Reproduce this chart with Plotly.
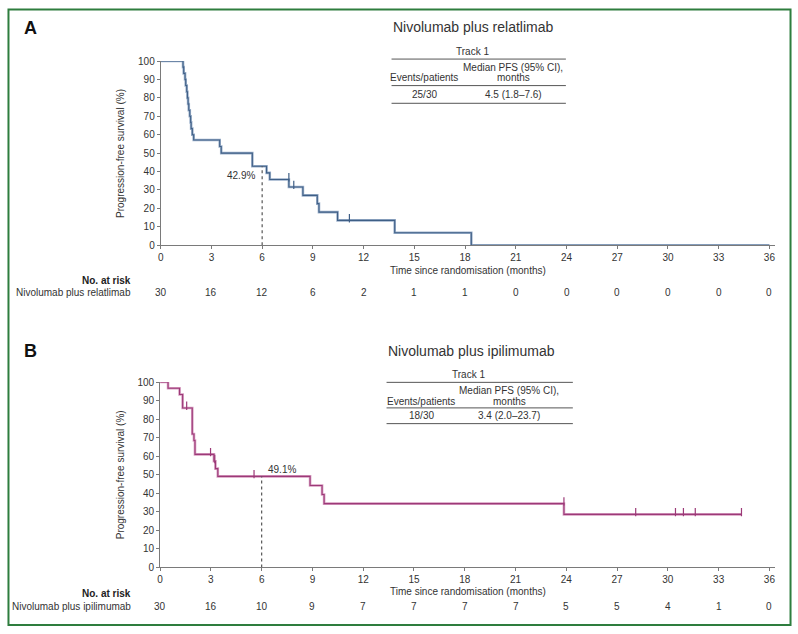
import plotly.graph_objects as go

W, H = 798, 634

# ---------------- data ----------------
months_ticks = [0, 3, 6, 9, 12, 15, 18, 21, 24, 27, 30, 33, 36]

a_times = [0, 1.32, 1.36, 1.44, 1.48, 1.54, 1.58, 1.62, 1.66, 1.72, 1.77, 1.80, 1.87, 1.95,
           3.49, 3.58, 5.42, 6.26, 6.45, 7.58, 8.41, 9.26, 9.36, 10.46, 13.84, 18.37, 36]
a_surv = [100, 96.7, 93.3, 90.0, 86.7, 83.3, 80.0, 76.7, 73.3, 70.0, 66.7, 63.3, 60.0, 57.1,
          53.6, 50.0, 42.9, 39.3, 35.7, 31.6, 27.1, 22.6, 18.0, 13.5, 6.8, 0, 0]
a_cens_t = [7.58, 7.87, 11.16]
a_cens_s = [35.7, 31.6, 13.5]
a_risk = [30, 16, 12, 6, 2, 1, 1, 0, 0, 0, 0, 0, 0]
a_median6 = 42.9

b_times = [0, 0.47, 1.15, 1.33, 1.90, 2.00, 2.06, 3.18, 3.27, 3.41, 8.86, 9.57, 9.69, 23.86, 34.35]
b_surv = [100, 96.7, 93.3, 86.0, 72.0, 68.5, 61.0, 57.3, 53.3, 49.1, 44.2, 39.3, 34.4, 28.6, 28.6]
b_cens_t = [1.57, 2.98, 3.23, 5.55, 23.86, 28.1, 30.45, 30.92, 31.62, 34.35]
b_cens_s = [86.0, 61.0, 57.3, 49.1, 34.4, 28.6, 28.6, 28.6, 28.6, 28.6]
b_risk = [30, 16, 10, 9, 7, 7, 7, 7, 5, 5, 4, 1, 0]
b_median6 = 49.1

# ---------------- helpers ----------------
def px(x):
    return x / W

def py(y):
    return 1 - y / H

FONT = "Liberation Sans, Arial, sans-serif"
TXT = "#333333"
AX = "#7a7a7a"
COL_A = "#3f5f86"
COL_A_LIGHT = "#9db1cb"
COL_B = "#9c3a78"
COL_B_LIGHT = "#d79cc0"

fig = go.Figure()

panels = {
    "A": dict(x0=158.3, x36=769.3, ytop=56.0, ybot=243.5, xa="x", ya="y"),
    "B": dict(x0=157.7, x36=769.3, ytop=382.7, ybot=571.3, xa="x2", ya="y2"),
}

def add_curve(xa, ya, t, s, ct, cs, col, col_light, med):
    fig.add_trace(go.Scatter(x=t, y=s, mode="lines", line=dict(color=col_light, width=2.6, shape="hv"),
                             xaxis=xa, yaxis=ya, hoverinfo="skip", showlegend=False))
    fig.add_trace(go.Scatter(x=t, y=s, mode="lines", line=dict(color=col, width=1.1, shape="hv"),
                             xaxis=xa, yaxis=ya, showlegend=False))
    fig.add_trace(go.Scatter(x=ct, y=[v + 1.2 for v in cs], mode="markers",
                             marker=dict(symbol="line-ns", size=6, line=dict(color=col, width=1.2)),
                             xaxis=xa, yaxis=ya, showlegend=False))
    fig.add_trace(go.Scatter(x=[6, 6], y=[0, med], mode="lines",
                             line=dict(color="#555555", width=1.2, dash="dot"),
                             xaxis=xa, yaxis=ya, showlegend=False))

add_curve("x", "y", a_times, a_surv, a_cens_t, a_cens_s, COL_A, COL_A_LIGHT, a_median6)
add_curve("x2", "y2", b_times, b_surv, b_cens_t, b_cens_s, COL_B, COL_B_LIGHT, b_median6)

ext = 0.35
layout_axes = {}
for key, p in panels.items():
    ppm = (p["x36"] - p["x0"]) / 36
    xd = [px(p["x0"]), px(p["x36"] + ext * ppm)]
    yd = [py(p["ybot"]), py(p["ytop"])]
    xname = "xaxis" if p["xa"] == "x" else "xaxis2"
    yname = "yaxis" if p["ya"] == "y" else "yaxis2"
    layout_axes[xname] = dict(domain=xd, range=[0, 36 + ext], tickvals=months_ticks,
                              ticktext=[str(m) for m in months_ticks],
                              showline=True, linecolor=AX, linewidth=1, ticks="outside",
                              ticklen=3, tickcolor=AX, showgrid=False, zeroline=False,
                              tickfont=dict(size=10, color=TXT, family=FONT),
                              anchor=p["ya"], fixedrange=True)
    layout_axes[yname] = dict(domain=yd, range=[0, 100], tickvals=list(range(0, 101, 10)),
                              showline=True, linecolor=AX, linewidth=1, ticks="outside",
                              ticklen=3, tickcolor=AX, showgrid=False, zeroline=False,
                              tickfont=dict(size=10, color=TXT, family=FONT),
                              anchor=p["xa"], fixedrange=True)

fig.update_layout(**layout_axes)

ann = []
shapes = []

def text(x, y, s, size=10, xanchor="center", bold=False, xref="paper", yref="paper", angle=0, color=TXT):
    ann.append(dict(x=x, y=y, xref=xref, yref=yref, text=("<b>%s</b>" % s) if bold else s,
                    showarrow=False, xanchor=xanchor, yanchor="middle", textangle=angle,
                    font=dict(size=size, color=color, family=FONT)))

def hline(x0, x1, y, color="#555555", width=1):
    shapes.append(dict(type="line", xref="paper", yref="paper", x0=px(x0), x1=px(x1),
                       y0=py(y), y1=py(y), line=dict(color=color, width=width)))

# green frame
shapes.append(dict(type="rect", xref="paper", yref="paper", x0=px(5.5), x1=px(790.5),
                   y0=py(630), y1=py(3.5), line=dict(color="#2e7d3e", width=2)))

text(px(28), py(22), "A", size=18, bold=True, color="#111111")
text(px(28), py(351), "B", size=18, bold=True, color="#111111")
text(px(472), py(21), "Nivolumab plus relatlimab", size=14)
text(px(470), py(351), "Nivolumab plus ipilimumab", size=14)

text(px(118), py(150), "Progression-free survival (%)", size=10, angle=-90)
text(px(118), py(477), "Progression-free survival (%)", size=10, angle=-90)

text(px(467), py(269), "Time since randomisation (months)", size=10)
text(px(467), py(596), "Time since randomisation (months)", size=10)

text(5.72, 38.1, "42.9%", size=10, xanchor="right", xref="x", yref="y")
text(6.25, 52.8, "49.1%", size=10, xanchor="left", xref="x2", yref="y2")

text(px(130), py(279), "No. at risk", size=10, xanchor="right", bold=True, color="#222222")
text(px(130), py(292), "Nivolumab plus relatlimab", size=10, xanchor="right")
for m, r in zip(months_ticks, a_risk):
    text(m, py(292), str(r), size=10, xref="x")
text(px(130), py(598), "No. at risk", size=10, xanchor="right", bold=True, color="#222222")
text(px(130), py(611), "Nivolumab plus ipilimumab", size=10, xanchor="right")
for m, r in zip(months_ticks, b_risk):
    text(m, py(611), str(r), size=10, xref="x2")

tables = [
    dict(x0=390, x1=565, track=46, l1=54, h1=63, h2=73, l2=81, val=90, l3=99,
         evx=423, medx=512, ev="25/30", med="4.5 (1.8\u20137.6)", trackx=471),
    dict(x0=385, x1=572, track=375, l1=383, h1=391, h2=402, l2=409, val=417, l3=425,
         evx=420, medx=508, ev="18/30", med="3.4 (2.0\u201323.7)", trackx=467),
]
for t in tables:
    text(px(t["trackx"]), py(t["track"]), "Track 1", size=10)
    hline(t["x0"], t["x1"], t["l1"])
    text(px(t["medx"]), py(t["h1"]), "Median PFS (95% CI),", size=10)
    text(px(t["medx"]), py(t["h2"]), "months", size=10)
    text(px(t["evx"]), py(t["h2"]), "Events/patients", size=10)
    hline(t["x0"], t["x1"], t["l2"])
    text(px(t["evx"]), py(t["val"]), t["ev"], size=10)
    text(px(t["medx"]), py(t["val"]), t["med"], size=10)
    hline(t["x0"], t["x1"], t["l3"])

fig.update_layout(width=W, height=H, margin=dict(l=0, r=0, t=0, b=0),
                  paper_bgcolor="white", plot_bgcolor="white",
                  annotations=ann, shapes=shapes, showlegend=False,
                  font=dict(family=FONT, color=TXT))

fig.write_html("out.html")
